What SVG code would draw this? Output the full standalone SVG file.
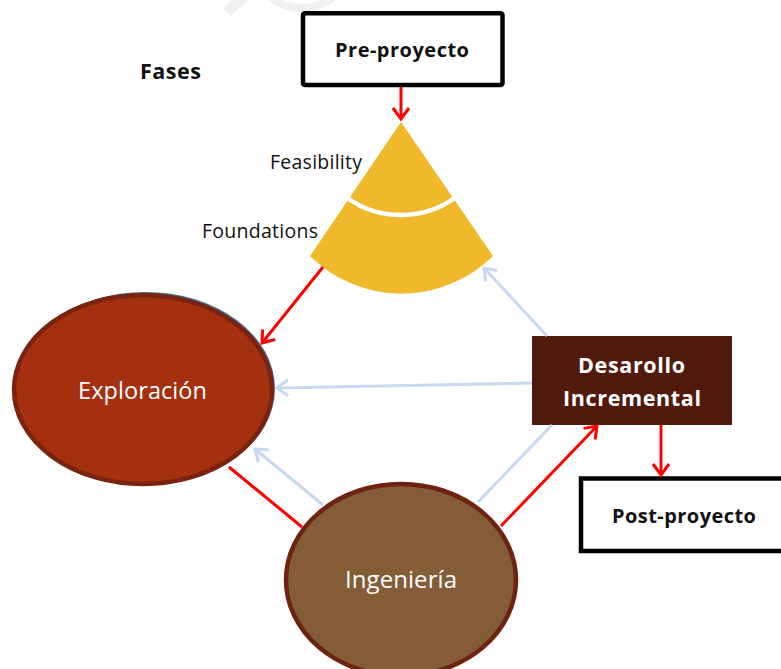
<svg xmlns="http://www.w3.org/2000/svg" width="781" height="669" viewBox="0 0 781 669">
  <defs>
    <style>
      .lbl { font-family: "Open Sans", "Liberation Sans", sans-serif; fill: #111111; }
      .bold { font-weight: bold; }
      .wt { fill: #FFFFFF; }
      .red { stroke: #FF0000; stroke-width: 3; fill: none; }
      .blue { stroke: #C6D9F1; stroke-width: 3; fill: none; }
      .box { fill: #FFFFFF; stroke: #000000; stroke-width: 4.5; }
    </style>
    <marker id="arRed" markerUnits="userSpaceOnUse" markerWidth="24" markerHeight="24" viewBox="-16 -12 20 24" refX="0" refY="0" orient="auto">
      <path d="M-11,-8 L0,0 L-11,8" fill="none" stroke="#FF0000" stroke-width="3"/>
    </marker>
    <marker id="arBlue" markerUnits="userSpaceOnUse" markerWidth="24" markerHeight="24" viewBox="-16 -12 20 24" refX="0" refY="0" orient="auto">
      <path d="M-11,-8 L0,0 L-11,8" fill="none" stroke="#C6D9F1" stroke-width="3"/>
    </marker>
  </defs>

  <rect width="781" height="669" fill="#FFFFFF"/>

  <!-- faint background mark along the top edge -->
  <g fill="none" stroke="#F0F0F0">
    <path d="M227,12 L245,-4" stroke-width="11"/>
    <ellipse cx="302" cy="-20" rx="39" ry="28" stroke-width="8"/>
  </g>

  <text class="lbl bold" x="140" y="79" font-size="21.5" textLength="61">Fases</text>

  <g id="pre-proyecto">
    <rect class="box" x="303" y="13.3" width="199.5" height="71.7" rx="2"/>
    <text class="lbl bold" x="402" y="57" font-size="20" text-anchor="middle" textLength="134">Pre-proyecto</text>
  </g>

  <g id="fases-fan">
    <path d="M401,122 L310,256 A130,130 0 0 0 493,256 Z" fill="#F0B92C"/>
    <path d="M338.8,191.1 A93,93 0 0 0 463.2,191.1" fill="none" stroke="#FFFFFF" stroke-width="4.5"/>
    <text class="lbl" x="270" y="169" font-size="19.5" textLength="92">Feasibility</text>
    <text class="lbl" x="202" y="238" font-size="19.5" textLength="116">Foundations</text>
  </g>

  <g id="exploracion">
    <ellipse cx="145.5" cy="388.5" rx="129.5" ry="96.5" fill="#41719C"/>
    <ellipse cx="143" cy="389.5" rx="129" ry="94.5" fill="#A5300F" stroke="#7A2410" stroke-width="4.5"/>
    <text class="lbl wt" x="142.5" y="399" font-size="23.5" text-anchor="middle" textLength="129">Exploración</text>
  </g>

  <g id="ingenieria">
    <ellipse cx="401" cy="580" rx="115" ry="96" fill="#845C37" stroke="#6E2210" stroke-width="4.5"/>
    <text class="lbl wt" x="401" y="588" font-size="24" text-anchor="middle" textLength="112">Ingeniería</text>
  </g>

  <g id="desarollo-incremental">
    <rect x="532" y="336" width="200" height="89" fill="#521A0D"/>
    <text class="lbl bold wt" x="631.5" y="373" font-size="21.5" text-anchor="middle" textLength="107">Desarollo</text>
    <text class="lbl bold wt" x="632" y="406" font-size="21.5" text-anchor="middle" textLength="138">Incremental</text>
  </g>

  <g id="post-proyecto">
    <rect class="box" x="581" y="478.5" width="260" height="72.5" stroke-width="5"/>
    <text class="lbl bold" x="684" y="523" font-size="20" text-anchor="middle" textLength="144">Post-proyecto</text>
  </g>

  <g id="connectors">
    <line class="blue" x1="547" y1="336" x2="484" y2="268" marker-end="url(#arBlue)"/>
    <line class="blue" x1="532" y1="383" x2="277" y2="388" marker-end="url(#arBlue)"/>
    <line class="blue" x1="323" y1="505" x2="255" y2="449" marker-end="url(#arBlue)"/>
    <line class="blue" x1="478" y1="502" x2="552" y2="425"/>

    <line class="red" x1="401" y1="87" x2="401" y2="119" marker-end="url(#arRed)"/>
    <line class="red" x1="323" y1="267" x2="262" y2="343" marker-end="url(#arRed)"/>
    <line class="red" x1="229" y1="467" x2="302" y2="527"/>
    <line class="red" x1="501" y1="526" x2="597" y2="426" marker-end="url(#arRed)"/>
    <line class="red" x1="661" y1="425" x2="661" y2="475" marker-end="url(#arRed)"/>
  </g>
</svg>
